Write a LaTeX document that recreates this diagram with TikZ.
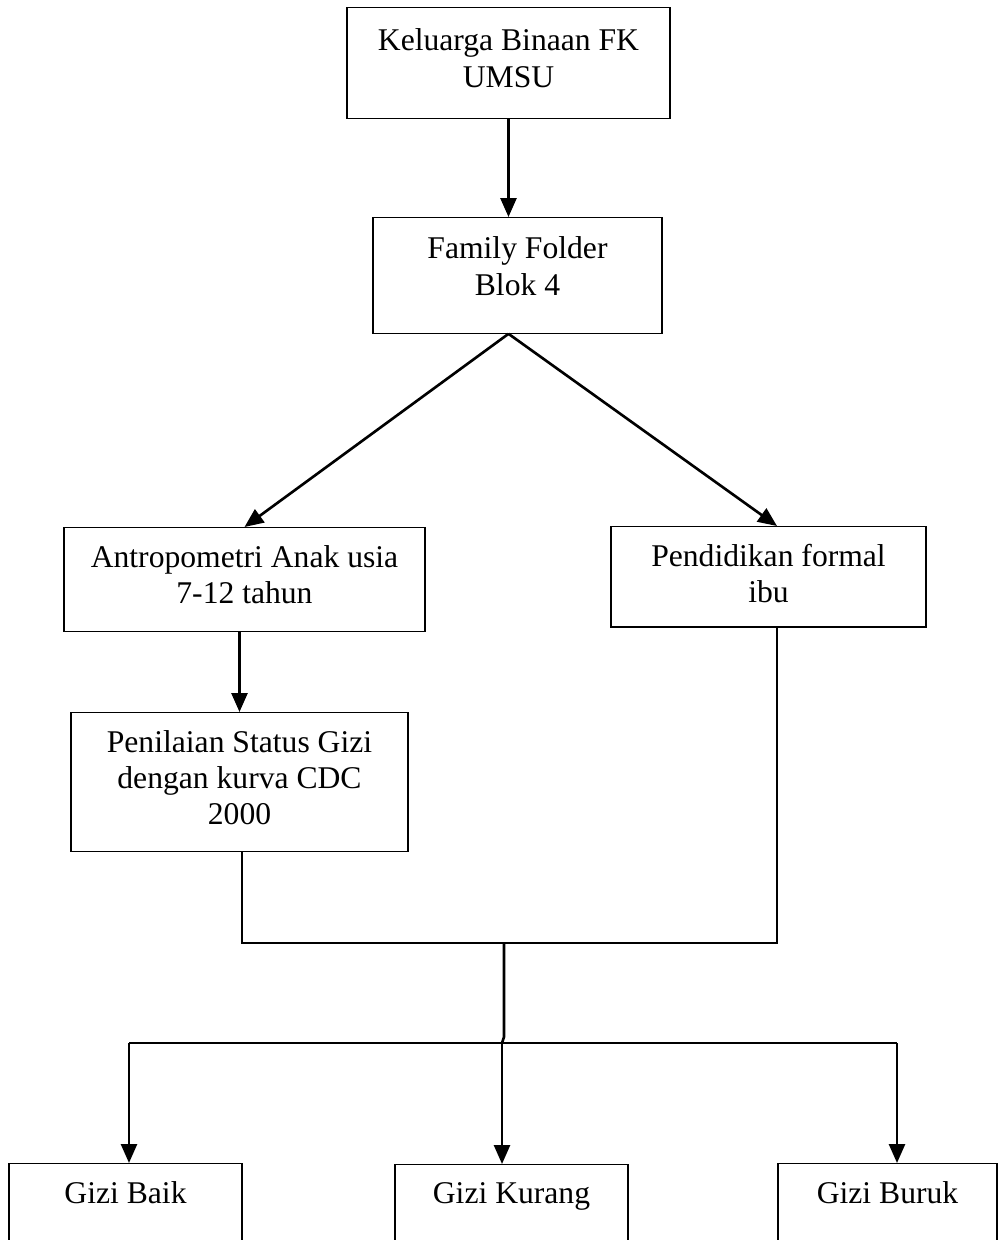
\documentclass[tikz,border=0pt]{standalone}
\usepackage{fontspec}
\setmainfont{Liberation Serif}
\usepackage{tikz}
\usetikzlibrary{positioning,arrows.meta,calc}

\begin{document}
\begin{tikzpicture}[x=0.02cm,y=-0.02cm,
    every node/.style={font=\fontsize{18}{20.7}\selectfont},
    box/.style={draw, line width=0.7pt, align=center, anchor=north, inner ysep=10pt},
    arr/.style={line width=1.5pt, -{Triangle[length=0.38cm,width=0.32cm]}},
    link/.style={line width=1.5pt}]
  \useasboundingbox (0,0) rectangle (998,1240);
  % top of the chart
  \node[box, minimum width=6.46cm, inner ysep=12pt, text depth=6pt] (kel) at (508.5,7) {Keluarga Binaan FK\\UMSU};
  \node[box, minimum width=5.78cm, inner ysep=11pt, text depth=10.6pt] (fam) at (517.5,217) {Family Folder\\Blok 4};
  \draw[arr] (kel.south) -- (kel.south |- fam.north);
  % two branches
  \node[box, minimum width=7.22cm, text depth=6pt] (antro) at (244.5,527) {Antropometri Anak usia\\7-12 tahun};
  \node[box, minimum width=6.3cm, text depth=3.8pt] (pend) at (768.5,526) {Pendidikan formal\\ibu};
  \node[box, minimum width=6.74cm, text depth=5pt] (nilai) at (239.5,712) {Penilaian Status Gizi\\dengan kurva CDC\\2000};
  \coordinate (apex) at (kel.south |- fam.south);
  \draw[arr] (apex) -- (antro.north);
  \draw[arr] (apex) -- ($(pend.north)+(8.5,0)$);
  \draw[arr] (nilai.north |- antro.south) -- (nilai.north);
  % joining line
  \coordinate (joinL) at ($(nilai.south)+(2.5,0)$);
  \coordinate (joinR) at ($(pend.south)+(8.5,0)$);
  \coordinate (mid) at (504,943);
  \draw[link] (joinL) -- (joinL |- mid) -- (joinR |- mid) -- (joinR);
  % results
  \node[box, minimum width=4.66cm, text depth=3cm] (baik) at (125.5,1163) {Gizi Baik};
  \node[box, minimum width=4.66cm, text depth=3cm] (kurang) at (511.5,1164) {Gizi Kurang};
  \node[box, minimum width=4.38cm, text depth=3cm] (buruk) at (887.5,1163) {Gizi Buruk};
  \coordinate (split) at (502,1043);
  \coordinate (dropL) at (129,1043);
  \coordinate (dropR) at (897,1043);
  \draw[link] (mid) -- (504,1037) -- (split);
  \draw[link] (dropL) -- (dropR);
  \draw[arr] (dropL) -- (dropL |- baik.north);
  \draw[arr] (split) -- (split |- kurang.north);
  \draw[arr] (dropR) -- (dropR |- buruk.north);
\end{tikzpicture}
\end{document}
